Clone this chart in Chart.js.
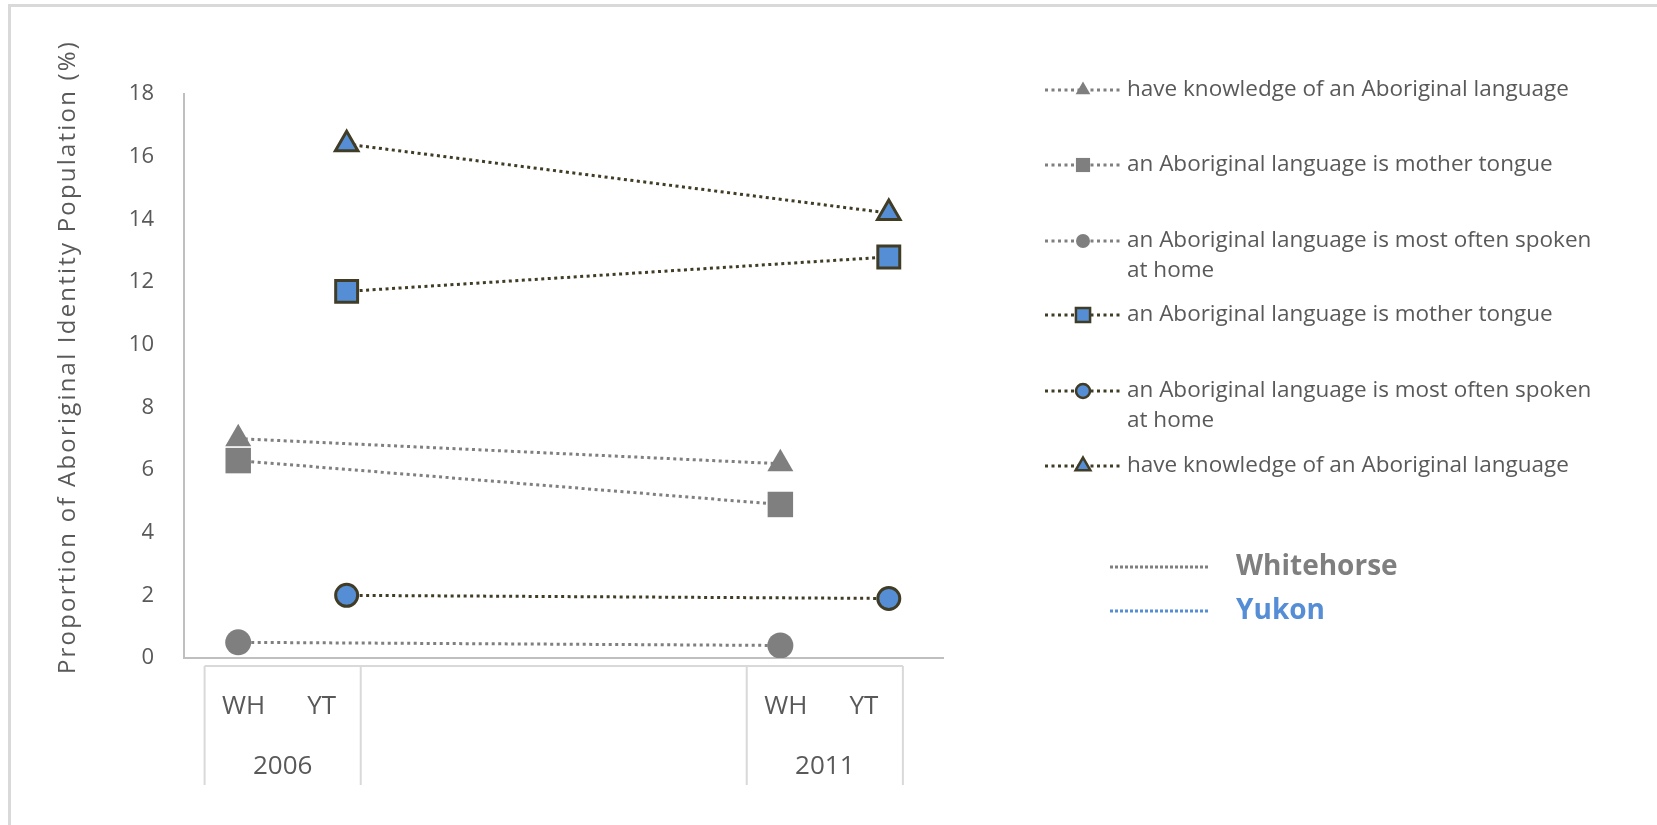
<!DOCTYPE html>
<html>
<head>
<meta charset="utf-8">
<script src="https://cdn.jsdelivr.net/npm/chart.js@4.4.1/dist/chart.umd.min.js"></script>
<style>
  html, body { margin: 0; padding: 0; background: #fff; }
  canvas { display: block; }
</style>
</head>
<body>
<canvas id="chart" width="1657" height="825"></canvas>
<script>
// x categories: two years, each with WH / YT, empty slots between
const categories = ['WH', 'YT', '', '', '', 'WH', 'YT'];
const years = ['2006', '2011'];
const yearSlots = [[0, 1], [5, 6]];

// Whitehorse (WH), 2006 then 2011
const whKnowledge = [7.0, 6.2];
const whMotherTongue = [6.3, 4.9];
const whHome = [0.5, 0.4];

// Yukon (YT), 2006 then 2011
const ytKnowledge = [16.4, 14.2];
const ytMotherTongue = [11.7, 12.8];
const ytHome = [2.0, 1.9];

const labelKnowledge = 'have knowledge of an Aboriginal language';
const labelMother = 'an Aboriginal language is mother tongue';
const labelHome = 'an Aboriginal language is most often spoken at home';
const yTitle = 'Proportion of Aboriginal Identity Population (%)';

const GRAY = '#7f7f7f';
const BLUE = '#558ed5';
const OLIVE = '#403c26';
const TEXT = '#595959';
const AXIS = '#bfbfbf';
const BOX = '#d9d9d9';
const FONT = '"Open Sans", sans-serif';

// put the two yearly values into WH (0) or YT (1) slot of each year
function place(values, slot) {
    const out = categories.map(() => null);
    values.forEach((v, i) => { out[yearSlots[i][slot]] = v; });
    return out;
}

const radius = {
    gray: { circle: 13, rect: 18, triangle: 15 },
    blue: { circle: 11, rect: 15.5, triangle: 13 },
    legend: { circle: 7, rect: 10, triangle: 8.5 }
};

function grayDs(label, values, style) {
    return {
        label: label,
        data: place(values, 0),
        borderColor: GRAY,
        backgroundColor: GRAY,
        borderWidth: 3,
        borderDash: [3, 3.5],
        pointStyle: style,
        pointRadius: radius.gray[style],
        pointBackgroundColor: GRAY,
        pointBorderColor: GRAY,
        pointBorderWidth: 0,
        spanGaps: true,
        tension: 0
    };
}

function blueDs(label, values, style) {
    return {
        label: label,
        data: place(values, 1),
        borderColor: OLIVE,
        backgroundColor: BLUE,
        borderWidth: 3,
        borderDash: [3, 3.5],
        pointStyle: style,
        pointRadius: radius.blue[style],
        pointBackgroundColor: BLUE,
        pointBorderColor: OLIVE,
        pointBorderWidth: 3,
        spanGaps: true,
        tension: 0
    };
}

const datasets = [
    grayDs(labelKnowledge, whKnowledge, 'triangle'),
    grayDs(labelMother, whMotherTongue, 'rect'),
    grayDs(labelHome, whHome, 'circle'),
    blueDs(labelMother, ytMotherTongue, 'rect'),
    blueDs(labelHome, ytHome, 'circle'),
    blueDs(labelKnowledge, ytKnowledge, 'triangle')
];

function marker(ctx, style, r, x, y, fill, stroke, bw) {
    ctx.save();
    ctx.fillStyle = fill;
    ctx.strokeStyle = stroke;
    ctx.lineWidth = bw;
    Chart.helpers.drawPoint(ctx, { pointStyle: style, rotation: 0, radius: r, borderWidth: bw }, x, y);
    ctx.restore();
}

function wrapText(ctx, text, maxWidth) {
    const words = text.split(' ');
    const lines = [];
    let line = '';
    words.forEach(w => {
        const test = line ? line + ' ' + w : w;
        if (ctx.measureText(test).width > maxWidth && line) {
            lines.push(line);
            line = w;
        } else {
            line = test;
        }
    });
    lines.push(line);
    return lines;
}

const extras = {
    id: 'extras',
    afterDraw(chart) {
        const ctx = chart.ctx;
        const x = chart.scales.x;
        ctx.save();

        // outer frame (top and left edge only visible)
        ctx.fillStyle = BOX;
        ctx.fillRect(8, 4, 1649, 3);
        ctx.fillRect(8, 4, 3, 821);

        // y axis title, wide tracking like the original
        ctx.save();
        ctx.translate(68, 357);
        ctx.rotate(-Math.PI / 2);
        ctx.fillStyle = TEXT;
        ctx.font = '24px ' + FONT;
        ctx.letterSpacing = '2.2px';
        ctx.textAlign = 'center';
        ctx.textBaseline = 'middle';
        ctx.fillText(yTitle, 0, 0);
        ctx.restore();

        // multi-level category box under the x axis
        const w = x.getPixelForValue(1) - x.getPixelForValue(0);
        const boxTop = 666, boxBottom = 785;
        const centers = yearSlots.map(s => (x.getPixelForValue(s[0]) + x.getPixelForValue(s[1])) / 2 - 0.09 * w);
        const half = 0.72 * w;
        ctx.strokeStyle = BOX;
        ctx.lineWidth = 2;
        ctx.beginPath();
        ctx.moveTo(centers[0] - half, boxTop);
        ctx.lineTo(centers[centers.length - 1] + half, boxTop);
        centers.forEach(c => {
            ctx.moveTo(c - half, boxTop);
            ctx.lineTo(c - half, boxBottom);
            ctx.moveTo(c + half, boxTop);
            ctx.lineTo(c + half, boxBottom);
        });
        ctx.stroke();

        ctx.fillStyle = TEXT;
        ctx.font = '26px ' + FONT;
        ctx.textAlign = 'center';
        ctx.textBaseline = 'middle';
        centers.forEach((c, g) => {
            const s = yearSlots[g];
            ctx.fillText(categories[s[0]], c - 0.36 * w, 707);
            ctx.fillText(categories[s[1]], c + 0.36 * w, 707);
            ctx.fillText(years[g], c, 767);
        });

        // legend
        const rows = [90, 165, 241, 315, 391, 466];
        ctx.textAlign = 'left';
        chart.data.datasets.forEach((ds, i) => {
            const ry = rows[i];
            ctx.save();
            ctx.strokeStyle = ds.borderColor;
            ctx.lineWidth = 3;
            ctx.setLineDash([3, 3.5]);
            ctx.beginPath();
            ctx.moveTo(1045, ry);
            ctx.lineTo(1120, ry);
            ctx.stroke();
            ctx.restore();
            const bw = ds.pointBorderWidth ? 2.5 : 0;
            marker(ctx, ds.pointStyle, radius.legend[ds.pointStyle], 1083, ry, ds.pointBackgroundColor, ds.pointBorderColor, bw);
            ctx.fillStyle = TEXT;
            ctx.font = '22.5px ' + FONT;
            wrapText(ctx, ds.label, 478).forEach((ln, k) => {
                ctx.fillText(ln, 1127, ry + k * 30);
            });
        });

        // series key
        const keys = [['Whitehorse', GRAY, 567], ['Yukon', BLUE, 611]];
        keys.forEach(([name, col, ky]) => {
            ctx.save();
            ctx.strokeStyle = col;
            ctx.lineWidth = 3;
            ctx.setLineDash([3, 2]);
            ctx.beginPath();
            ctx.moveTo(1110, ky);
            ctx.lineTo(1208, ky);
            ctx.stroke();
            ctx.restore();
            ctx.fillStyle = col;
            ctx.font = 'bold 28px ' + FONT;
            ctx.fillText(name, 1236, ky);
        });

        ctx.restore();
    }
};

new Chart(document.getElementById('chart'), {
    type: 'line',
    data: { labels: categories, datasets: datasets },
    options: {
        responsive: false,
        animation: false,
        layout: { padding: { top: 94, right: 714, bottom: 0, left: 0 } },
        plugins: { legend: { display: false }, tooltip: { enabled: false } },
        scales: {
            x: {
                offset: true,
                grid: { display: false },
                border: { color: AXIS, width: 2 },
                ticks: { display: false },
                afterFit(scale) { scale.height = 167; }
            },
            y: {
                min: 0,
                max: 18,
                grid: { display: false },
                border: { color: AXIS, width: 2 },
                ticks: { stepSize: 2, color: TEXT, font: { size: 22, family: FONT }, padding: 22 },
                afterFit(scale) { scale.width = 184; }
            }
        }
    },
    plugins: [extras]
});
</script>
</body>
</html>
